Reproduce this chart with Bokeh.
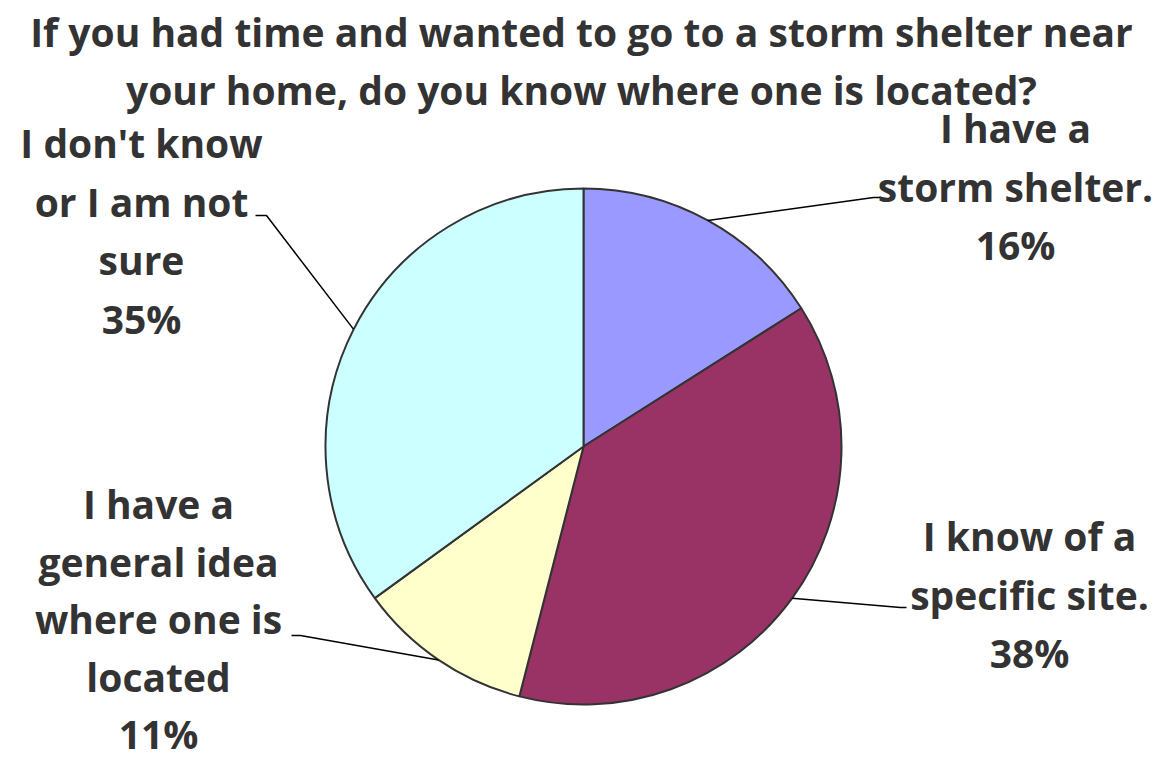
import numpy as np
from bokeh.plotting import figure
from bokeh.models import ColumnDataSource, Range1d
from bokeh.core.properties import value
from bokeh.embed import file_html
from bokeh.resources import INLINE

# ---- data ----
title_lines = ["If you had time and wanted to go to a storm shelter near",
               "your home, do you know where one is located?"]
categories = ["I have a\nstorm shelter.",
              "I know of a\nspecific site.",
              "I have a\ngeneral idea\nwhere one is\nlocated",
              "I don't know\nor I am not\nsure"]
percents = [16, 38, 11, 35]
colors = ["#9999FF", "#993366", "#FFFFCC", "#CCFFFF"]

# ---- layout (screen pixels in the picture) ----
W, H = 1157, 759
def sx(x): return x
def sy(y): return H - y

CX, CY, R = 583, 446, 258
label_pos = [(1015, 127), (1029, 535), (158, 503), (141, 142)]   # first line centre
label_gap = [58.5, 58.5, 57.5, 58.5]
leader = [((873, 197), (880, 197)),
          ((900, 607), (906, 607)),
          ((300, 635), (291, 635)),
          ((266, 215), (255, 215))]
FONT = "Open Sans"
FSIZE = "39px"
TXT = "#333333"

p = figure(width=W, height=H, x_range=Range1d(0, W), y_range=Range1d(0, H),
           min_border=0, toolbar_location=None, output_backend="svg")
p.axis.visible = False
p.grid.visible = False
p.outline_line_color = None
p.background_fill_color = "white"

vals = np.array(percents, dtype=float)
frac = vals / vals.sum()
cum = np.concatenate([[0.0], np.cumsum(frac)])
start = np.pi / 2 - 2 * np.pi * cum[:-1]
end = np.pi / 2 - 2 * np.pi * cum[1:]
mid = (start + end) / 2

src = ColumnDataSource(dict(start=start, end=end, color=colors))
p.wedge(x=sx(CX), y=sy(CY), radius=R, start_angle="start", end_angle="end",
        direction="clock", fill_color="color", line_color="#333333",
        line_width=2, source=src)

# leader lines from slice mid-angle on the rim to the label
xs, ys = [], []
for i in range(len(percents)):
    ex = sx(CX) + R * np.cos(mid[i])
    ey = sy(CY) + R * np.sin(mid[i])
    (bx, by), (tx, ty) = leader[i]
    xs.append([ex, sx(bx), sx(tx)])
    ys.append([ey, sy(by), sy(ty)])
p.multi_line(xs=xs, ys=ys, line_color="black", line_width=1.5)

# labels
lx, ly, lt = [], [], []
for i, cat in enumerate(categories):
    lines = cat.split("\n") + [f"{percents[i]}%"]
    x0, y0 = label_pos[i]
    for j, t in enumerate(lines):
        lx.append(sx(x0)); ly.append(sy(y0 + j * label_gap[i])); lt.append(t)
for j, t in enumerate(title_lines):
    lx.append(sx(581)); ly.append(sy(31 + j * 58)); lt.append(t)

p.text(x=lx, y=ly, text=lt, text_align="center", text_baseline="middle",
       text_font=value(FONT), text_font_style="bold",
       text_font_size=value(FSIZE), text_color=TXT)

open("out.html", "w").write(file_html(p, INLINE))
